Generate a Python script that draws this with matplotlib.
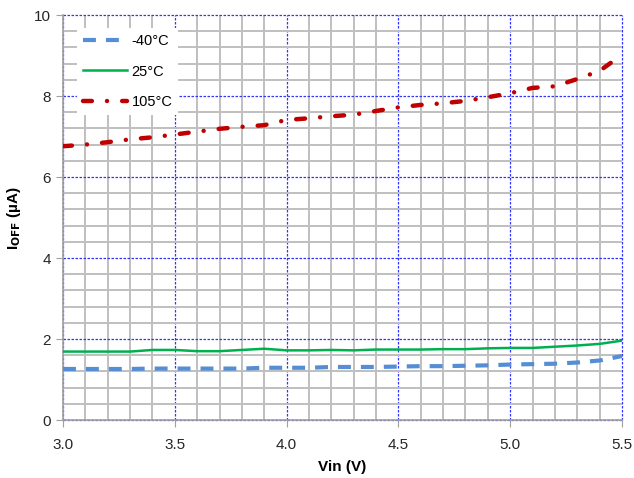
import matplotlib
matplotlib.use('Agg')
import matplotlib.pyplot as plt
import numpy as np
from matplotlib.ticker import MultipleLocator

plt.rcParams['font.family'] = ['Liberation Sans', 'DejaVu Sans']

# Vin (V)
vin = [3.0, 3.1, 3.2, 3.3, 3.4, 3.5, 3.6, 3.7, 3.8, 3.9, 4.0, 4.1, 4.2,
       4.3, 4.4, 4.5, 4.6, 4.7, 4.8, 4.9, 5.0, 5.1, 5.2, 5.3, 5.4, 5.5]

# I_OFF (uA) por temperatura
i_m40 = [1.26, 1.26, 1.26, 1.26, 1.27, 1.27, 1.27, 1.27, 1.27, 1.29, 1.29, 1.29, 1.31,
         1.31, 1.31, 1.32, 1.33, 1.33, 1.34, 1.35, 1.37, 1.38, 1.39, 1.42, 1.47, 1.58]
i_25 = [1.69, 1.69, 1.69, 1.69, 1.73, 1.73, 1.70, 1.70, 1.73, 1.76, 1.72, 1.72, 1.73,
        1.72, 1.74, 1.74, 1.74, 1.75, 1.75, 1.77, 1.78, 1.78, 1.81, 1.84, 1.88, 1.96]
i_105 = [6.76, 6.80, 6.86, 6.93, 6.98, 7.05, 7.12, 7.19, 7.24, 7.28, 7.41, 7.45, 7.50,
         7.54, 7.63, 7.72, 7.78, 7.82, 7.88, 7.97, 8.07, 8.20, 8.24, 8.42, 8.62, 9.02]

etiquetas = ['-40°C', '25°C', '105°C']

fig = plt.figure(figsize=(6.34, 4.78), dpi=100)
ax = fig.add_axes([0.0994, 0.1213, 0.8817, 0.8473])

ax.plot(vin, i_m40, color='#558ED5', lw=3, dashes=(3.1, 2.4),
        dash_capstyle='butt', label=etiquetas[0], zorder=3)
ax.plot(vin, i_25, color='#00B050', lw=1.8, label=etiquetas[1], zorder=3)
ax.plot(vin, i_105, color='#C00000', lw=3.2, dashes=(2.0, 3.4, 0.01, 3.4),
        dash_capstyle='round', label=etiquetas[2], zorder=3)

ax.set_xlim(3.0, 5.5)
ax.set_ylim(0, 10)
ax.xaxis.set_major_locator(MultipleLocator(0.5))
ax.xaxis.set_minor_locator(MultipleLocator(0.1))
ax.yaxis.set_major_locator(MultipleLocator(2))
ax.yaxis.set_minor_locator(MultipleLocator(0.4))
ax.xaxis.set_major_formatter(matplotlib.ticker.FormatStrFormatter('%.1f'))

ax.grid(which='minor', color='#BFBFBF', lw=1.4, zorder=0)
ax.grid(which='major', color='#3333FF', lw=0.9, ls=(0, (2, 1.2)), zorder=1)
ax.set_axisbelow(True)
for g in ax.get_xgridlines() + ax.get_ygridlines():
    g.set_clip_on(False)

for s in ['top', 'right']:
    ax.spines[s].set_visible(False)
for s in ['left', 'bottom']:
    ax.spines[s].set_color('#A0A0A0')
    ax.spines[s].set_linewidth(1.2)

ax.tick_params(which='major', length=5, color='#A0A0A0', labelsize=11,
               labelcolor='#262626')
ax.tick_params(which='minor', length=0)
ax.tick_params(axis='x', pad=8)

ax.set_xlabel('Vin (V)', fontsize=11, fontweight='bold', labelpad=6)
ax.set_ylabel(r'I$_{\mathbf{OFF}}$ (µA)', fontsize=11, fontweight='bold', labelpad=8)

leg = ax.legend(loc='upper left', bbox_to_anchor=(0.012, 0.985), frameon=True,
                fontsize=10.5, handlelength=3.0, handletextpad=0.35,
                labelspacing=1.12, borderpad=0.4, fancybox=False)
leg.get_frame().set_facecolor('white')
leg.get_frame().set_edgecolor('none')
leg.get_frame().set_alpha(1)

fig.savefig('out.png', dpi=100, facecolor='white')
